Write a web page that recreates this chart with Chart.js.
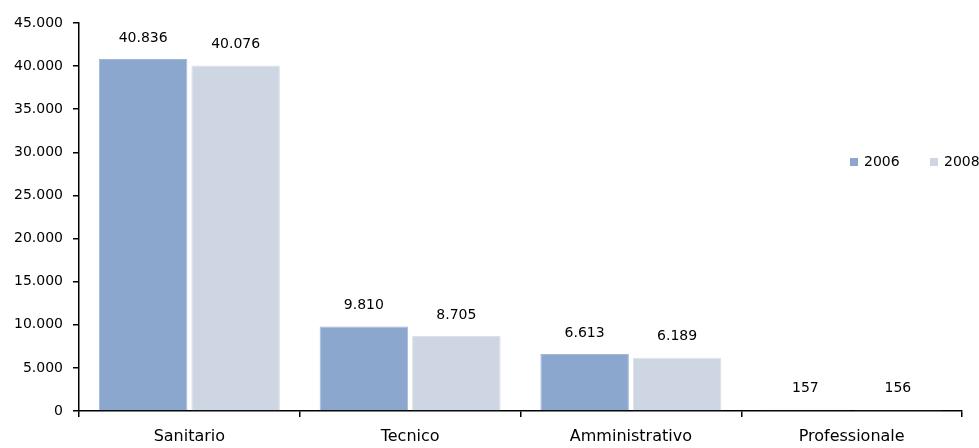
<!DOCTYPE html>
<html>
<head>
<meta charset="utf-8">
<script src="https://cdn.jsdelivr.net/npm/chart.js@4.4.1/dist/chart.umd.min.js"></script>
<style>
  html, body { margin: 0; padding: 0; background: #fff; }
  #wrap { position: relative; width: 979px; height: 448px; }
</style>
</head>
<body>
<div id="wrap"><canvas id="c" width="979" height="448"></canvas></div>
<script>
// Personale per ruolo, 2006 e 2008
const categories = ['Sanitario', 'Tecnico', 'Amministrativo', 'Professionale'];
const seriesNames = ['2006', '2008'];
const values2006 = [40836, 9810, 6613, 157];
const values2008 = [40076, 8705, 6189, 156];
const yTicks = [0, 5000, 10000, 15000, 20000, 25000, 30000, 35000, 40000, 45000];

const FONT = '"DejaVu Sans", Verdana, sans-serif';
const colors = ['#8BA7CE', '#CDD6E2'];
const edges = ['#A2B8DA', '#DAE1EA'];

// Italian thousands separator (it-IT omits it for 4-digit numbers)
function fmt(v) {
  return String(Math.round(v)).replace(/\B(?=(\d{3})+(?!\d))/g, '.');
}

// Value labels above each bar
const valueLabels = {
  id: 'valueLabels',
  afterDatasetsDraw(chart) {
    const ctx = chart.ctx;
    ctx.save();
    ctx.font = '14px ' + FONT;
    ctx.fillStyle = '#000';
    ctx.textAlign = 'center';
    ctx.textBaseline = 'middle';
    chart.data.datasets.forEach((ds, i) => {
      chart.getDatasetMeta(i).data.forEach((bar, j) => {
        ctx.fillText(fmt(ds.data[j]), bar.x, bar.y - 21);
      });
    });
    ctx.restore();
  }
};

// Legend drawn inside the plot, on the right
const sideLegend = {
  id: 'sideLegend',
  afterDraw(chart) {
    const ctx = chart.ctx;
    ctx.save();
    ctx.font = '14px ' + FONT;
    ctx.textBaseline = 'middle';
    ctx.textAlign = 'left';
    let x = 850;
    const y = 162;
    chart.data.datasets.forEach((ds) => {
      ctx.fillStyle = ds.backgroundColor;
      ctx.fillRect(x, y - 4, 8, 8);
      ctx.fillStyle = '#000';
      ctx.fillText(ds.label, x + 14, y);
      x += 80;
    });
    ctx.restore();
  }
};

new Chart(document.getElementById('c'), {
  type: 'bar',
  data: {
    labels: categories,
    datasets: [
      { label: seriesNames[0], data: values2006, backgroundColor: colors[0], borderColor: edges[0], borderWidth: 1 },
      { label: seriesNames[1], data: values2008, backgroundColor: colors[1], borderColor: edges[1], borderWidth: 1 }
    ]
  },
  options: {
    responsive: false,
    animation: false,
    devicePixelRatio: 1,
    layout: { padding: { left: 0, right: 17, top: 23, bottom: 0 } },
    datasets: { bar: { categoryPercentage: 0.838, barPercentage: 0.957 } },
    plugins: { legend: { display: false }, tooltip: { enabled: false } },
    scales: {
      x: {
        grid: { display: true, offset: true, drawOnChartArea: false, tickLength: 6, color: '#000', lineWidth: 1.5 },
        border: { display: true, color: '#000', width: 1.5 },
        ticks: { color: '#000', font: { family: FONT, size: 16 }, padding: 10, maxRotation: 0 },
        afterFit(s) { s.height = 37; }
      },
      y: {
        min: 0,
        max: 45000,
        afterBuildTicks(s) { s.ticks = yTicks.map(v => ({ value: v })); },
        grid: { display: true, drawOnChartArea: false, tickLength: 6, color: '#000', lineWidth: 1.5 },
        border: { display: true, color: '#000', width: 1.5 },
        ticks: { color: '#000', font: { family: FONT, size: 14 }, padding: 10, callback: (v) => fmt(v) },
        afterFit(s) { s.width = 79; }
      }
    }
  },
  plugins: [valueLabels, sideLegend]
});
</script>
</body>
</html>
